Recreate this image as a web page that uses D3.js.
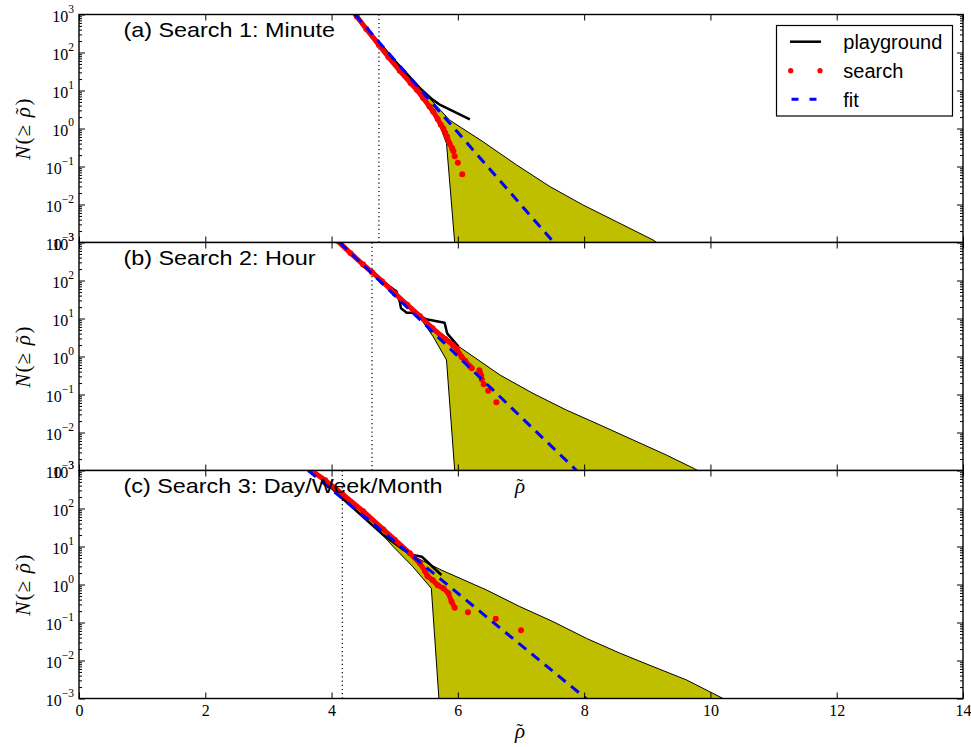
<!DOCTYPE html>
<html><head><meta charset="utf-8">
<script src="https://cdn.jsdelivr.net/npm/d3@7"></script>
<style>body{margin:0;background:#fff}</style>
</head><body><svg id="c" width="971" height="747"></svg>
<script>
// ---- data ----
const xTicks = [0, 2, 4, 6, 8, 10, 12, 14];
const yExps = [3, 2, 1, 0, -1, -2, -3];
const titles = ["(a) Search 1: Minute", "(b) Search 2: Hour", "(c) Search 3: Day/Week/Month"];
const vlineX = [4.75, 4.64, 4.17];
const legendLabels = ["playground", "search", "fit"];

// Panel (a)
const fitX1 = [4.37, 7.52];
const fitN1 = [1e3, 1e-3];
const playX1 = [4.33, 4.75, 5.10, 5.40, 5.60, 5.72, 6.19];
const playN1 = [1200, 182, 39.8, 11.5, 5.75, 4.17, 1.74];
const searchX1 = [4.33, 4.40, 4.55, 4.75, 4.90, 5.08, 5.25, 5.35, 5.45, 5.55, 5.61, 5.68, 5.73, 5.77, 5.80, 5.83, 5.87, 5.91, 5.93];
const searchN1 = [1260, 891, 417, 158, 75.9, 33.1, 15.8, 10.5, 6.31, 3.80, 2.75, 1.78, 1.26, 1.00, 0.759, 0.603, 0.398, 0.302, 0.251];
const tailX1 = [5.95, 6.00, 6.07];
const tailN1 = [0.1875, 0.125, 0.0625];
const upX1 = [4.33, 4.75, 5.10, 5.40, 5.72, 5.87, 6.40, 6.93, 7.46, 7.98, 8.51, 9.09, 9.15];
const upN1 = [1200, 191, 41.7, 11.7, 3.09, 1.66, 0.447, 0.110, 0.0295, 0.00977, 0.00355, 0.00117, 0.001];
const loX1 = [4.33, 4.75, 5.10, 5.40, 5.61, 5.72, 5.82, 5.95];
const loN1 = [1200, 158, 35.5, 8.51, 2.51, 1.12, 0.407, 0.001];

// Panel (b)
const fitX2 = [4.13, 7.88];
const fitN2 = [1e3, 1e-3];
const playX2 = [4.07, 4.29, 4.64, 4.92, 5.03, 5.08, 5.10, 5.19, 5.32, 5.50, 5.79, 5.83, 6.01];
const playN2 = [1120, 525, 178, 69.2, 51.3, 27.5, 18.6, 14.1, 14.1, 9.55, 7.76, 4.07, 1.82];
const searchX2 = [4.09, 4.30, 4.50, 4.64, 4.80, 5.00, 5.20, 5.40, 5.60, 5.80, 5.92, 5.98, 6.06, 6.12, 6.19, 6.22];
const searchN2 = [1120, 525, 263, 166, 95.5, 45.7, 22.9, 11.5, 5.50, 2.88, 2.00, 1.62, 0.977, 0.759, 0.550, 0.490];
const tailX2 = [6.34, 6.35, 6.37, 6.38, 6.41, 6.48, 6.61];
const tailN2 = [0.4375, 0.375, 0.3125, 0.25, 0.1875, 0.125, 0.0625];
const upX2 = [4.07, 4.64, 5.08, 5.61, 5.98, 6.67, 7.19, 7.72, 8.25, 8.78, 9.30, 9.73, 9.80];
const upN2 = [1120, 178, 37.2, 6.03, 2.00, 0.324, 0.107, 0.0389, 0.0158, 0.00631, 0.00257, 0.00115, 0.001];
const loX2 = [4.07, 4.64, 5.08, 5.29, 5.45, 5.61, 5.82, 5.95];
const loN2 = [1120, 158, 35.5, 15.8, 7.94, 3.31, 0.813, 0.001];

// Panel (c)
const fitX3 = [3.63, 8.03];
const fitN3 = [1e3, 1e-3];
const playX3 = [3.68, 4.17, 4.82, 5.14, 5.29, 5.43, 5.74];
const playN3 = [1120, 186, 20.0, 8.13, 6.03, 5.37, 1.78];
const searchX3 = [3.64, 3.90, 4.17, 4.50, 4.82, 5.00, 5.24, 5.40, 5.48, 5.52, 5.60, 5.68, 5.77, 5.85, 5.90, 5.95];
const searchN3 = [1120, 550, 240, 85.1, 28.2, 15.1, 6.61, 3.55, 2.24, 1.66, 1.32, 0.955, 0.794, 0.589, 0.355, 0.245];
const tailX3 = [6.16, 6.60, 7.00];
const tailN3 = [0.1875, 0.125, 0.0625];
const upX3 = [3.68, 4.17, 4.82, 5.10, 5.35, 5.74, 6.455, 6.98, 7.51, 8.04, 8.57, 9.09, 9.62, 10.20];
const upN3 = [1120, 240, 28.2, 10.5, 5.01, 2.40, 0.716, 0.263, 0.105, 0.0380, 0.0155, 0.00692, 0.00309, 0.001];
const loX3 = [3.68, 4.17, 4.82, 4.98, 5.28, 5.58, 5.70];
const loN3 = [1120, 200, 19.1, 9.77, 3.02, 0.794, 0.001];

const panels = [
  {fitX: fitX1, fitN: fitN1, playX: playX1, playN: playN1, sX: searchX1, sN: searchN1, tX: tailX1, tN: tailN1, upX: upX1, upN: upN1, loX: loX1, loN: loN1},
  {fitX: fitX2, fitN: fitN2, playX: playX2, playN: playN2, sX: searchX2, sN: searchN2, tX: tailX2, tN: tailN2, upX: upX2, upN: upN2, loX: loX2, loN: loN2},
  {fitX: fitX3, fitN: fitN3, playX: playX3, playN: playN3, sX: searchX3, sN: searchN3, tX: tailX3, tN: tailN3, upX: upX3, upN: upN3, loX: loX3, loN: loN3}
];

// ---- layout ----
const L = 79, R = 963, T0 = 14.5, PH = 228;
const serif = "'Liberation Serif','DejaVu Serif',serif";
const sans = "'Liberation Sans',Arial,sans-serif";
const svg = d3.select('#c');
const defs = svg.append('defs');
const x = d3.scaleLinear().domain([0, 14]).range([L, R]);
const zip = (a, b) => a.map((v, i) => [v, b[i]]);

const minor = [];
for (let k = -3; k < 3; k++) for (let m = 2; m <= 9; m++) minor.push(m * Math.pow(10, k));
const major = yExps.map(e => Math.pow(10, e));

// rho with tilde, as one text element
function rhoTilde(cx, by) {
  const t = svg.append('text').attr('x', cx - 5).attr('y', by).attr('font-family', serif).attr('fill', '#000').attr('font-size', 21);
  t.append('tspan').attr('font-style', 'italic').text('\u03C1');
  t.append('tspan').attr('dx', -8.5).attr('dy', -1).attr('font-size', 19).text('\u02DC');
}

panels.forEach((p, i) => {
  const top = T0 + i * PH, bot = top + PH;
  const y = d3.scaleLog().domain([1e-3, 1e3]).range([bot, top]);
  const line = d3.line().x(d => x(d[0])).y(d => y(d[1]));
  const g = svg.append('g');
  g.append('rect').attr('x', L).attr('y', top).attr('width', R - L).attr('height', PH).attr('fill', '#fff');
  defs.append('clipPath').attr('id', 'clip' + i).append('rect')
    .attr('x', L).attr('y', top).attr('width', R - L).attr('height', PH);
  const pg = g.append('g').attr('clip-path', `url(#clip${i})`);

  // band
  const band = zip(p.upX, p.upN).concat(zip(p.loX, p.loN).reverse());
  pg.append('path').attr('d', line(band) + 'Z')
    .attr('fill', '#bfbf00').attr('stroke', '#000').attr('stroke-width', 1).attr('stroke-linejoin', 'round');

  // dotted vertical line
  pg.append('line').attr('x1', x(vlineX[i])).attr('x2', x(vlineX[i])).attr('y1', top).attr('y2', bot)
    .attr('stroke', '#000').attr('stroke-width', 1.2).attr('stroke-dasharray', '1.2,3');

  // playground
  pg.append('path').attr('d', line(zip(p.playX, p.playN)))
    .attr('fill', 'none').attr('stroke', '#000').attr('stroke-width', 2.5).attr('stroke-linejoin', 'round');

  // search
  const sPts = zip(p.sX, p.sN);
  pg.append('path').attr('d', line(sPts))
    .attr('fill', 'none').attr('stroke', '#f00').attr('stroke-width', 5)
    .attr('stroke-linejoin', 'round').attr('stroke-linecap', 'round');
  pg.selectAll('circle.s').data(sPts.concat(zip(p.tX, p.tN))).enter().append('circle')
    .attr('cx', d => x(d[0])).attr('cy', d => y(d[1])).attr('r', 3).attr('fill', '#f00');

  // fit
  pg.append('path').attr('d', line(zip(p.fitX, p.fitN)))
    .attr('fill', 'none').attr('stroke', '#00f').attr('stroke-width', 3).attr('stroke-dasharray', '10,7');

  // axes ticks
  const clean = s => s.select('.domain').remove();
  const bx = g.append('g').attr('transform', `translate(0,${bot})`)
    .call(d3.axisBottom(x).tickValues(xTicks).tickSize(-6).tickPadding(6).tickFormat(i === 2 ? d3.format('d') : () => ''))
    .call(clean);
  bx.attr('font-family', serif).attr('font-size', 16);
  g.append('g').attr('transform', `translate(0,${top})`)
    .call(d3.axisTop(x).tickValues(xTicks).tickSize(-6).tickFormat(() => '')).call(clean);
  g.append('g').attr('transform', `translate(${L},0)`)
    .call(d3.axisLeft(y).tickValues(major).tickSize(-6).tickFormat(() => '')).call(clean);
  g.append('g').attr('transform', `translate(${L},0)`)
    .call(d3.axisLeft(y).tickValues(minor).tickSize(-3).tickFormat(() => '')).call(clean);
  g.append('g').attr('transform', `translate(${R},0)`)
    .call(d3.axisRight(y).tickValues(major).tickSize(-6).tickFormat(() => '')).call(clean);
  g.append('g').attr('transform', `translate(${R},0)`)
    .call(d3.axisRight(y).tickValues(minor).tickSize(-3).tickFormat(() => '')).call(clean);

  // frame
  g.append('rect').attr('x', L).attr('y', top).attr('width', R - L).attr('height', PH)
    .attr('fill', 'none').attr('stroke', '#000').attr('stroke-width', 1.4);

  // y tick labels
  yExps.forEach(e => {
    const t = svg.append('text').attr('x', 74).attr('y', y(Math.pow(10, e)) + 7.4)
      .attr('text-anchor', 'end').attr('font-family', serif).attr('font-size', 16).attr('fill', '#000');
    t.append('tspan').text('10');
    t.append('tspan').attr('dy', -9.4).attr('font-size', 11.5).text(e < 0 ? '\u2212' + (-e) : String(e));
  });

  // y label  N(≥ ρ̃)
  const yl = svg.append('text').attr('transform', `translate(29.5,${(top + bot) / 2}) rotate(-90)`)
    .attr('text-anchor', 'middle').attr('font-family', serif).attr('font-size', 21).attr('fill', '#000')
    .attr('letter-spacing', 1.2);
  yl.append('tspan').attr('font-style', 'italic').text('N');
  yl.append('tspan').text('(\u2265 ');
  yl.append('tspan').attr('font-style', 'italic').text('\u03C1');
  yl.append('tspan').attr('dx', -8.5).attr('dy', -1).attr('font-size', 19).text('\u02DC');
  yl.append('tspan').attr('dx', 1.5).attr('dy', 1).text(')');

  // title
  svg.append('text').attr('x', 123.5).attr('y', top + 23).attr('font-family', sans).attr('font-size', 20.5)
    .attr('fill', '#000').attr('transform', `translate(123.5,0) scale(1.14,1) translate(-123.5,0)`).text(titles[i]);
});

// x labels (bottom axis, and the one showing through at the top of panel c)
rhoTilde(520, 738);
rhoTilde(520, 493);

// legend
const lg = svg.append('g');
lg.append('rect').attr('x', 776.5).attr('y', 25.5).attr('width', 176).attr('height', 90.5)
  .attr('fill', '#fff').attr('stroke', '#000').attr('stroke-width', 1.2);
const ly = [41.7, 70.7, 99.3];
lg.append('line').attr('x1', 790).attr('x2', 821).attr('y1', ly[0]).attr('y2', ly[0]).attr('stroke', '#000').attr('stroke-width', 2.5);
[790.7, 820].forEach(cx => lg.append('circle').attr('cx', cx).attr('cy', ly[1]).attr('r', 2.6).attr('fill', '#f00'));
lg.append('line').attr('x1', 791.5).attr('x2', 817).attr('y1', ly[2]).attr('y2', ly[2]).attr('stroke', '#00f')
  .attr('stroke-width', 3).attr('stroke-dasharray', '7,11');
legendLabels.forEach((t, j) => lg.append('text').attr('x', 843.3).attr('y', ly[j] + 7.3)
  .attr('font-family', sans).attr('font-size', 20).attr('fill', '#000').text(t));
</script></body></html>
